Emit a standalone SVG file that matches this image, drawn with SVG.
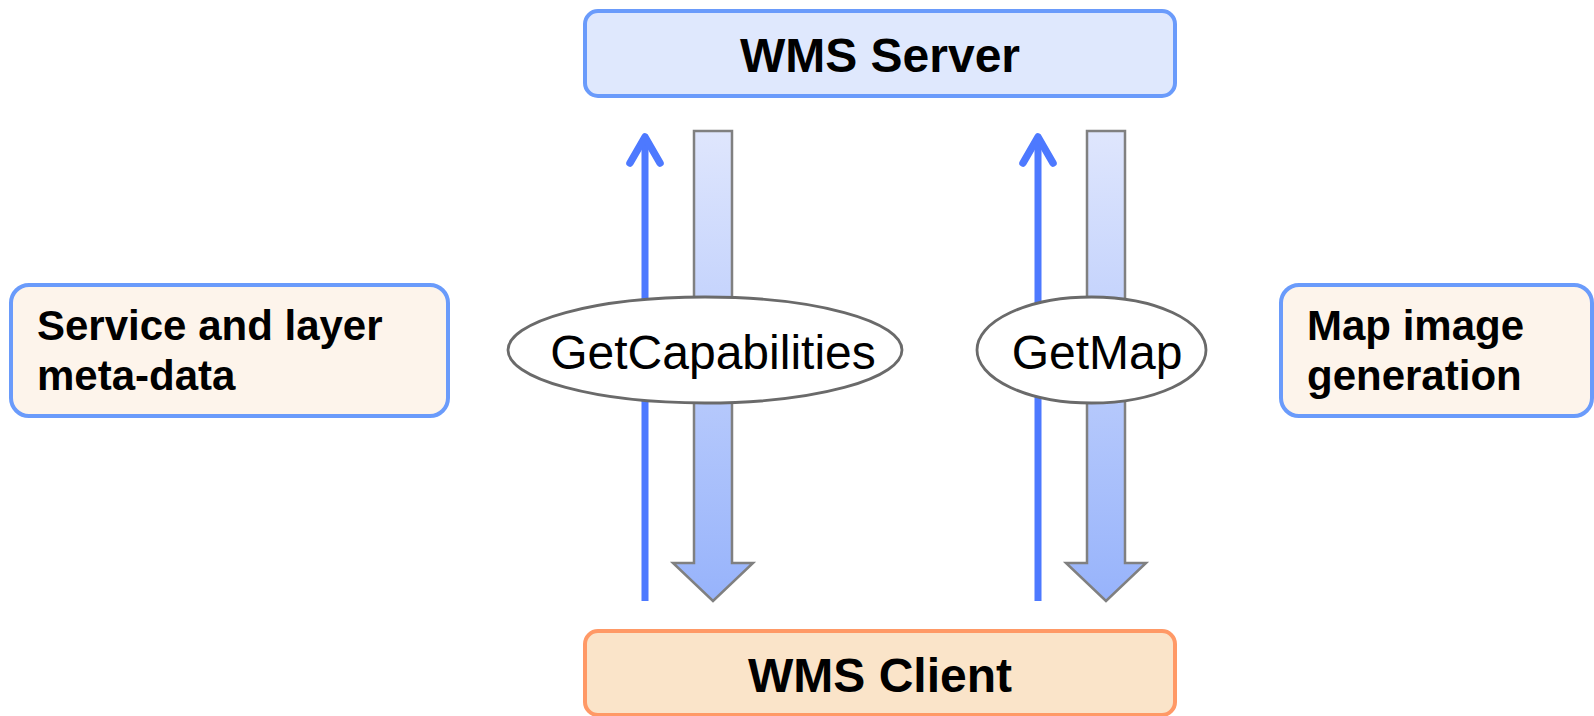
<svg xmlns="http://www.w3.org/2000/svg" width="1594" height="716" viewBox="0 0 1594 716">
  <defs>
    <linearGradient id="flowFill" x1="0" y1="0" x2="0" y2="1">
      <stop offset="0" stop-color="#dfe6fd"/>
      <stop offset="1" stop-color="#97b3fb"/>
    </linearGradient>
    <style>
      .box-blue { fill: #dfe8fd; stroke: #6a9bfb; stroke-width: 4; }
      .box-orange { fill: #fae4c9; stroke: #ff9966; stroke-width: 4; }
      .box-note { fill: #fdf4eb; stroke: #6a9bfb; stroke-width: 4; }
      .title { font-family: "Liberation Sans", Arial, sans-serif; font-weight: bold; font-size: 48px; fill: #000; text-anchor: middle; }
      .note { font-family: "Liberation Sans", Arial, sans-serif; font-weight: bold; font-size: 42px; fill: #000; }
      .label { font-family: "Liberation Sans", Arial, sans-serif; font-size: 48px; fill: #000; text-anchor: middle; }
      .req { fill: none; stroke: #4d79ff; stroke-width: 7; }
      .req-head { fill: none; stroke: #4d79ff; stroke-width: 7.5; stroke-linecap: round; stroke-linejoin: round; }
      .resp { fill: url(#flowFill); stroke: #808080; stroke-width: 2.5; }
      .op { fill: #ffffff; stroke: #6a6a6a; stroke-width: 2.8; }
    </style>
  </defs>

  <g id="server">
    <rect class="box-blue" x="585" y="11" width="590" height="85" rx="13"/>
    <text class="title" x="880" y="72">WMS Server</text>
  </g>

  <g id="client">
    <rect class="box-orange" x="585" y="631" width="590" height="84" rx="13"/>
    <text class="title" x="880" y="692">WMS Client</text>
  </g>

  <g id="metadata-note">
    <rect class="box-note" x="11" y="285" width="437" height="131" rx="18"/>
    <text class="note" x="37" y="340">Service and layer</text>
    <text class="note" x="37" y="390">meta-data</text>
  </g>

  <g id="mapgen-note">
    <rect class="box-note" x="1281" y="285" width="311" height="131" rx="18"/>
    <text class="note" x="1307" y="340">Map image</text>
    <text class="note" x="1307" y="390">generation</text>
  </g>

  <g id="connectors">
    <!-- GetCapabilities: request up, response down -->
    <line class="req" x1="645" y1="601" x2="645" y2="139"/>
    <polyline class="req-head" points="630,163 645,137 660,163"/>
    <polygon class="resp" points="694,131 732,131 732,563 753,563 713,601 673,563 694,563"/>
    <!-- GetMap: request up, response down -->
    <line class="req" x1="1038" y1="601" x2="1038" y2="139"/>
    <polyline class="req-head" points="1023,163 1038,137 1053,163"/>
    <polygon class="resp" points="1087,131 1125,131 1125,563 1146,563 1106,601 1066,563 1087,563"/>
  </g>

  <g id="op-getcapabilities">
    <ellipse class="op" cx="705" cy="350" rx="197" ry="53"/>
    <text class="label" x="713" y="369">GetCapabilities</text>
  </g>

  <g id="op-getmap">
    <ellipse class="op" cx="1091.5" cy="350" rx="114.5" ry="53"/>
    <text class="label" x="1097" y="369">GetMap</text>
  </g>
</svg>
